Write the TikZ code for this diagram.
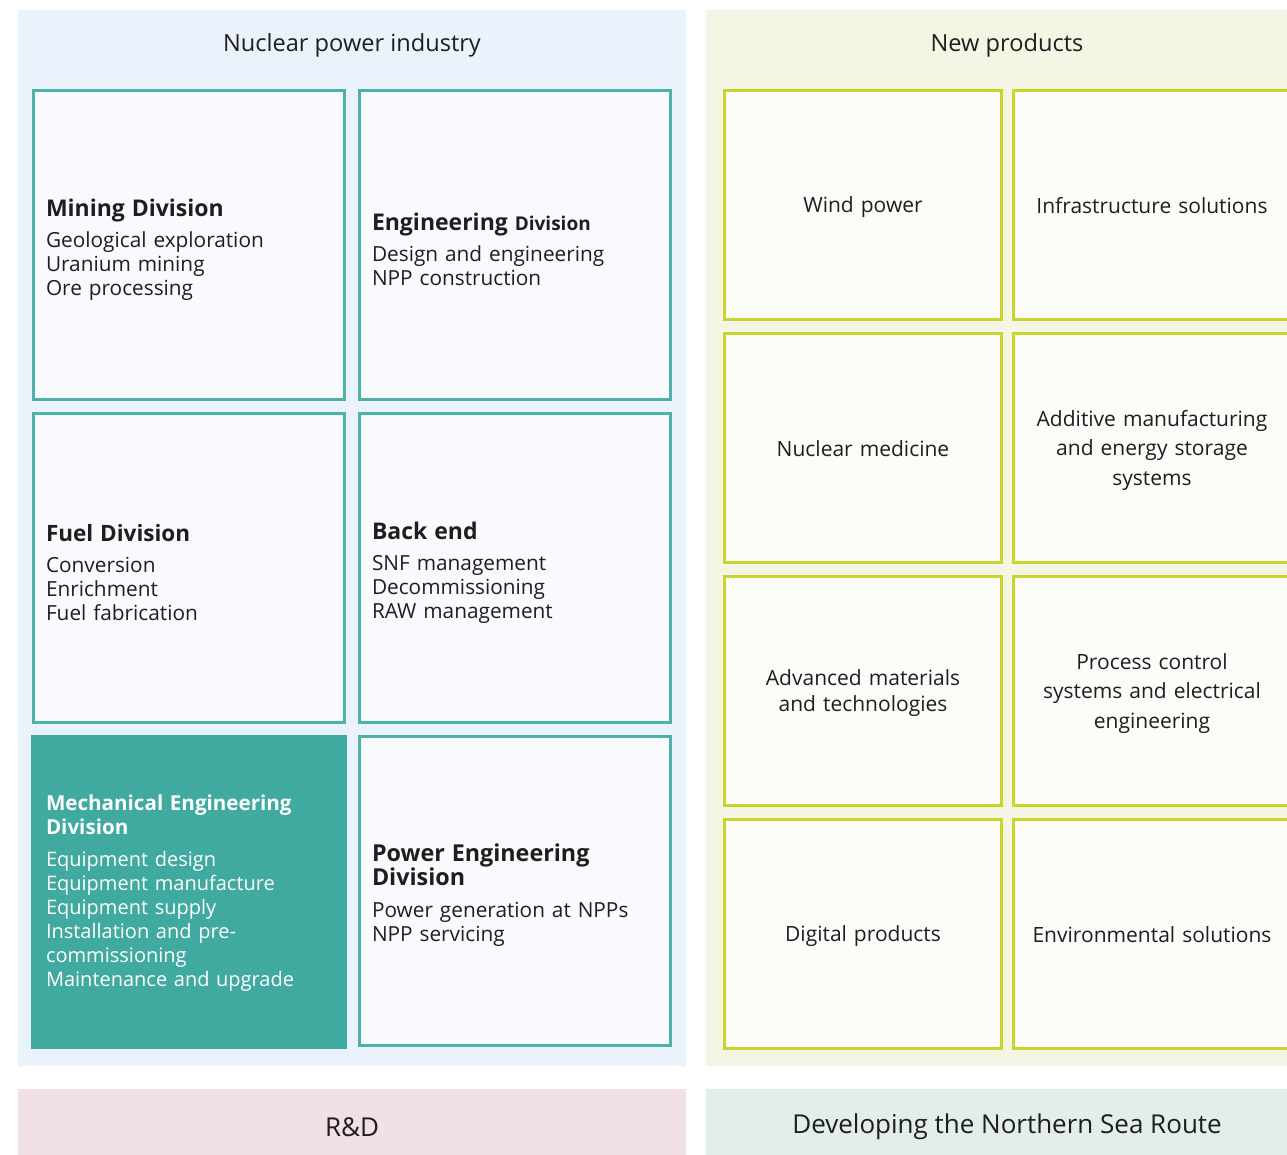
\documentclass[tikz,border=0pt]{standalone}
\usepackage{fontspec}
\setmainfont{Open Sans}
\usetikzlibrary{positioning}

\definecolor{npbg}{HTML}{EAF3FB}
\definecolor{newbg}{HTML}{F4F6E3}
\definecolor{rdbg}{HTML}{F1E0E7}
\definecolor{nsrbg}{HTML}{E3EDEC}
\definecolor{divline}{HTML}{4DB3A8}
\definecolor{divfill}{HTML}{F8FAFD}
\definecolor{mechfill}{HTML}{40A9A0}
\definecolor{prodline}{HTML}{CBD32F}
\definecolor{prodfill}{HTML}{FCFDF8}
\definecolor{ink}{HTML}{1E1E1E}

\newcommand{\divtitle}[1]{{\bfseries\fontsize{23}{24}\selectfont #1}\\[7pt]}

\begin{document}
\begin{tikzpicture}[x=1pt,y=-1pt,node distance=11pt and 12pt,
    panel/.style={inner sep=0pt,text=ink},
    div box/.style={draw=divline,fill=divfill,line width=3pt,minimum height=309pt,
      inner xsep=12.5pt,text width=286pt,align=left,text=ink,text height=26pt,
      font=\fontsize{20.8}{24}\selectfont},
    prod box/.style={draw=prodline,fill=prodfill,line width=3pt,minimum width=277pt,
      minimum height=229pt,text width=264pt,align=center,text=ink,node distance=11pt and 9pt,
      text height=21pt,font=\fontsize{21}{29.5}\selectfont}]
  \useasboundingbox (0,0) rectangle (1287,1154);

  % backgrounds
  \fill[npbg] (18,10) rectangle (686,1066);
  \fill[newbg] (706,10) rectangle (1309,1066);
  \fill[rdbg] (18,1089) rectangle (686,1170);
  \fill[nsrbg] (706,1089) rectangle (1309,1170);
  \node[panel,font=\fontsize{23.6}{28}\selectfont] (nuclear) at (352,45) {Nuclear power industry};
  \node[panel,font=\fontsize{23.6}{28}\selectfont] (newprod) at (1007,45) {New products};
  \node[panel,font=\fontsize{26}{30}\selectfont] (rnd) at (352,1127) {R\&D};
  \node[panel,font=\fontsize{26}{30}\selectfont] (nsr) at (1007,1127) {Developing the Northern Sea Route};

  % divisions
  \node[div box,anchor=north west] (mining) at (32,89)
    {\divtitle{Mining Division}Geological exploration\\Uranium mining\\Ore processing};
  \node[div box,right=of mining] (engineering)
    {{\bfseries\fontsize{23}{24}\selectfont Engineering \fontsize{19}{24}\selectfont Division}\\[7pt]Design and engineering\\NPP construction};
  \node[div box,below=of mining] (fuel)
    {{\bfseries\fontsize{22.5}{24}\selectfont Fuel Division}\\[7pt]Conversion\\Enrichment\\Fuel fabrication};
  \node[div box,below=of engineering] (backend)
    {\divtitle{Back end}SNF management\\Decommissioning\\RAW management};
  \node[div box,below=of fuel,draw=mechfill,fill=mechfill,line width=5pt,text=white,
        text height=17pt,font=\fontsize{20}{24}\selectfont] (mechanical)
    {{\bfseries\fontsize{20.6}{24}\selectfont Mechanical Engineering\\Division}\\[8pt]Equipment design\\Equipment manufacture\\Equipment supply\\Installation and pre-\\commissioning\\Maintenance and upgrade};
  \node[div box,below=of backend] (power)
    {{\bfseries\fontsize{23.3}{24}\selectfont Power Engineering\\Division}\\[8pt]Power generation at NPPs\\NPP servicing};

  % new products
  \node[prod box,anchor=north west] (wind) at (723,89) {Wind power};
  \node[prod box,right=of wind,text depth=5pt] (infra) {Infrastructure solutions};
  \node[prod box,below=of wind,text depth=5pt] (medicine) {Nuclear medicine};
  \node[prod box,below=of infra] (additive) {Additive manufacturing\\and energy storage\\systems};
  \node[prod box,below=of medicine,font=\fontsize{21}{26}\selectfont] (materials) {Advanced materials\\and technologies};
  \node[prod box,below=of additive] (process) {Process control\\systems and electrical\\engineering};
  \node[prod box,below=of materials] (digital) {Digital products};
  \node[prod box,below=of process,text depth=5pt] (environment) {Environmental solutions};
\end{tikzpicture}
\end{document}
